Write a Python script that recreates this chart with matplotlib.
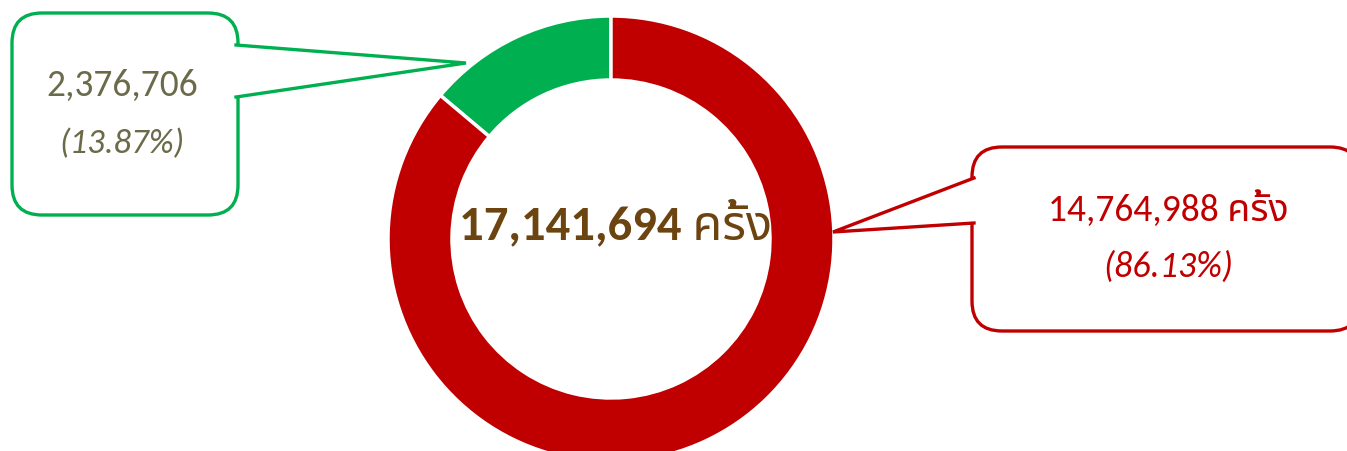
import matplotlib
matplotlib.use("Agg")
import matplotlib.pyplot as plt
from matplotlib.patches import FancyBboxPatch, Polygon

# data
labels = ["green", "red"]
counts = [2376706, 14764988]
percents = [13.87, 86.13]
total = 17141694
unit = "ครั้ง"
colors = ["#00B050", "#C00000"]

FONTS = ["Carlito", "Noto Sans Thai", "IBM Plex Sans Thai", "DejaVu Sans"]

W, H = 1347, 451
fig = plt.figure(figsize=(W / 100, H / 100), dpi=100)

# donut: centre (611, 239) px, radius 223 px, runs off the bottom edge
cx, cy, r = 611, 239, 223
ax = fig.add_axes([(cx - r) / W, (H - cy - r) / H, 2 * r / W, 2 * r / H])
ax.pie(counts, colors=colors, startangle=90, counterclock=True,
       radius=1, wedgeprops=dict(width=0.287, edgecolor="white", linewidth=2.5))
ax.set_xlim(-1, 1)
ax.set_ylim(-1, 1)
ax.axis("off")

ax.text(0.02, 0.07, f"{total:,} {unit}", ha="center", va="center",
        fontsize=35, color="#6B4410", family=FONTS, fontweight="bold")

# overlay axes in pixel coords for the callouts
ov = fig.add_axes([0, 0, 1, 1])
ov.set_xlim(0, W)
ov.set_ylim(H, 0)
ov.axis("off")


def callout(x0, y0, x1, y1, base, tip, color):
    box = FancyBboxPatch((x0, y0), x1 - x0, y1 - y0,
                         boxstyle="round,pad=0,rounding_size=30",
                         facecolor="white", edgecolor=color, linewidth=2.4)
    ov.add_patch(box)
    tri = Polygon([base[0], base[1], tip], closed=True, facecolor="white",
                  edgecolor="none")
    ov.add_patch(tri)
    ov.plot([base[0][0], tip[0], base[1][0]], [base[0][1], tip[1], base[1][1]],
            color=color, linewidth=2.4, solid_joinstyle="miter")


callout(12, 13, 238, 215, [(236, 45), (236, 97)], (466, 63), colors[0])
callout(972, 147, 1360, 331, [(974, 178), (974, 223)], (833, 232), colors[1])

ov.text(122, 85, f"{counts[0]:,}", ha="center", va="center", fontsize=27,
        color="#6B6B4B", family=FONTS)
ov.text(122, 144, f"({percents[0]:.2f}%)", ha="center", va="center",
        fontsize=25, color="#6B6B4B", family=FONTS, style="italic")
ov.text(1168, 209, f"{counts[1]:,} {unit}", ha="center", va="center",
        fontsize=27, color="#C00000", family=FONTS)
ov.text(1168, 267, f"({percents[1]:.2f}%)", ha="center", va="center",
        fontsize=26, color="#C00000", family=FONTS, style="italic")

fig.savefig("out.png", dpi=100)
